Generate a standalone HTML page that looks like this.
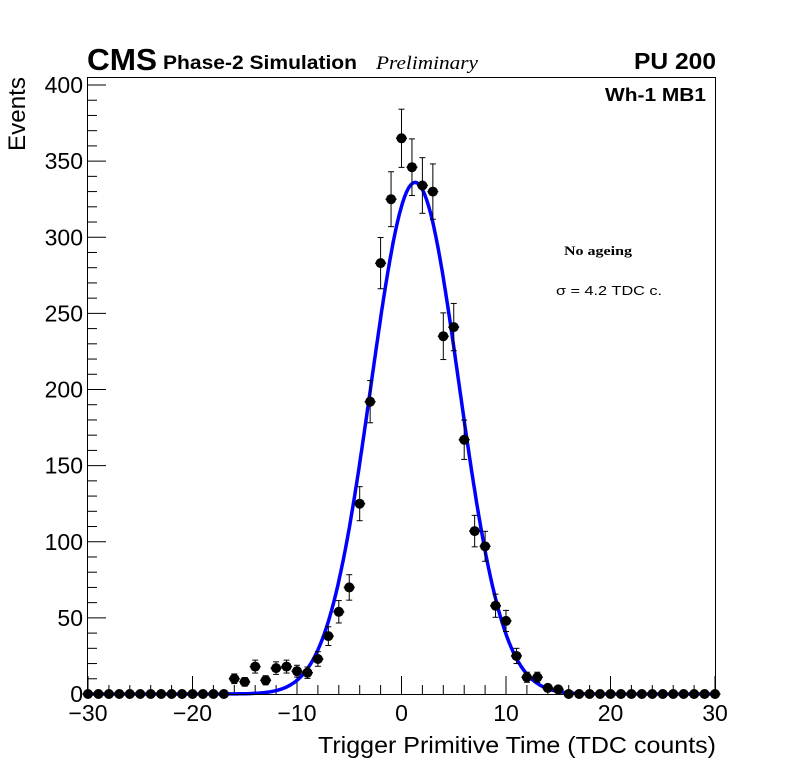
<!DOCTYPE html>
<html><head><meta charset="utf-8"><style>
body{margin:0;background:#fff;}
svg text{font-family:"Liberation Sans",sans-serif;}
</style></head><body>
<svg id="c" width="796" height="772" xmlns="http://www.w3.org/2000/svg">
<rect width="796" height="772" fill="#fff"/>
<text x="87" y="70" font-size="31" font-weight="bold" textLength="70" lengthAdjust="spacingAndGlyphs">CMS</text>
<text x="163" y="69" font-size="19" font-weight="bold" textLength="194" lengthAdjust="spacingAndGlyphs">Phase-2 Simulation</text>
<text x="376" y="69" font-size="19" font-style="italic" textLength="102" lengthAdjust="spacingAndGlyphs" style="font-family:'Liberation Serif',serif">Preliminary</text>
<text x="634" y="69" font-size="23" font-weight="bold" textLength="82" lengthAdjust="spacingAndGlyphs">PU 200</text>
<text x="605" y="101" font-size="18" font-weight="bold" textLength="101" lengthAdjust="spacingAndGlyphs">Wh-1 MB1</text>
<text x="564" y="255" font-size="13" font-weight="bold" textLength="68" lengthAdjust="spacingAndGlyphs" style="font-family:'Liberation Serif',serif">No ageing</text>
<text x="556" y="295" font-size="13" textLength="106" lengthAdjust="spacingAndGlyphs">σ = 4.2 TDC c.</text>
<text x="318" y="753" font-size="23" textLength="398" lengthAdjust="spacingAndGlyphs">Trigger Primitive Time (TDC counts)</text>
<text transform="translate(25,151) rotate(-90)" font-size="24" textLength="74" lengthAdjust="spacingAndGlyphs">Events</text>
<g id="axes"></g>
<g id="marks"></g>
<rect x="87.5" y="77.5" width="628" height="617" fill="none" stroke="#000"/>
</svg>
<script>
const xs = [-16,-15,-14,-13,-12,-11,-10,-9,-8,-7,-6,-5,-4,-3,-2,-1,0,1,2,3,4,5,6,7,8,9,10,11,12,13,14,15];
const counts = [10,8,18,9,17,18,15,14,23,38,54,70,125,192,283,325,365,346,334,330,235,241,167,107,97,58,48,25,11,11,4,3];
const xTicks = [-30,-20,-10,0,10,20,30];
const yTicks = [0,50,100,150,200,250,300,350,400];
const fitMean = 1.3, fitSigma = 4.2, fitAmp = 336;
const NS='http://www.w3.org/2000/svg';
const X0=88, X1=715, Y0=694, Y1=85;
const sx=v=>X0+(v+30)*(X1-X0)/60;
const sy=v=>Y0-v*(Y0-Y1)/400;
const ax=document.getElementById('axes'), mk=document.getElementById('marks');
function el(t,a,p){const e=document.createElementNS(NS,t);for(const k in a)e.setAttribute(k,a[k]);p.appendChild(e);return e;}
for(let v=-30;v<=30;v+=2){const maj=v%10===0;const t=el('line',{x1:sx(v),x2:sx(v),y1:Y0,y2:Y0-(maj?18:9),stroke:'#000'},ax);

}
xTicks.forEach(v=>{const t=el('text',{x:sx(v),y:Y0+27,'font-size':23,'text-anchor':'middle'},ax);t.textContent=(v<0?'\u2212'+(-v):v);

});
for(let v=0;v<=400;v+=10){const maj=v%50===0;const t=el('line',{x1:X0,x2:X0+(maj?18:9),y1:sy(v),y2:sy(v),stroke:'#000'},ax);

}
yTicks.forEach(v=>{const t=el('text',{x:X0-5,y:sy(v)+8,'font-size':23,'text-anchor':'end'},ax);t.textContent=v;

});
let d='';for(let v=-30;v<=30;v+=0.1){const y=fitAmp*Math.exp(-0.5*((v-fitMean)/fitSigma)**2);d+=(d?'L':'M')+sx(v).toFixed(1)+','+sy(y).toFixed(1);}
const fit=el('path',{d:d,fill:'none',stroke:'#0000ff','stroke-width':3.5},mk);


const allX=[],allY=[];
for(let v=-30;v<=30;v++){const i=xs.indexOf(v);allX.push(v);allY.push(i>=0?counts[i]:0);}
allX.forEach((v,i)=>{const n=allY[i];const g=el('g',{},mk);


const e=Math.sqrt(n);const cx=sx(v),cy=sy(n);
if(n>0){el('line',{x1:cx,x2:cx,y1:sy(n+e),y2:sy(n-e),stroke:'#000'},g);
el('line',{x1:cx-3,x2:cx+3,y1:sy(n+e),y2:sy(n+e),stroke:'#000'},g);
el('line',{x1:cx-3,x2:cx+3,y1:sy(n-e),y2:sy(n-e),stroke:'#000'},g);}
el('line',{x1:cx-5.5,x2:cx+5.5,y1:cy,y2:cy,stroke:'#000','stroke-width':1.5},g);
el('circle',{cx:cx,cy:cy,r:5,fill:'#000'},g);});
</script>
</body></html>
